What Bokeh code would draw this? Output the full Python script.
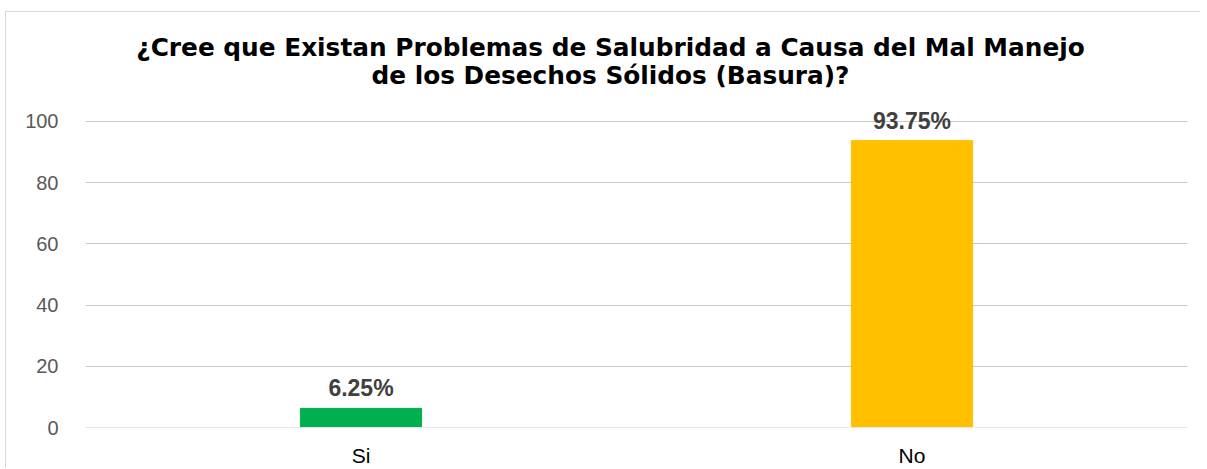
from bokeh.plotting import figure
from bokeh.models import ColumnDataSource, Label, LabelSet
from bokeh.core.properties import value
from bokeh.embed import file_html
from bokeh.resources import INLINE

categories = ["Si", "No"]
values = [6.25, 93.75]
labels = ["6.25%", "93.75%"]
colors = ["#00B050", "#FFC000"]
y_ticks = [0, 20, 40, 60, 80, 100]
title_line1 = "¿Cree que Existan Problemas de Salubridad a Causa del Mal Manejo"
title_line2 = "de los Desechos Sólidos (Basura)?"

src = ColumnDataSource(dict(cat=categories, val=values, lab=labels, col=colors))

# y range extends above 100 so that the title area lies inside the frame
p = figure(x_range=categories, y_range=(0, 135.6), width=1195, height=457,
           output_backend="svg", toolbar_location=None, title=None,
           min_border_left=79, min_border_right=14, min_border_bottom=42, min_border_top=0)
p.margin = (11, 0, 0, 5)
p.styles = {"border-left": "1px solid #d9d9d9", "border-top": "1px solid #d9d9d9"}

for txt, yy in ((title_line1, 380), (title_line2, 352)):
    p.add_layout(Label(x=525, y=yy, x_units="screen", y_units="screen", text=txt,
                       text_align="center", text_baseline="middle",
                       text_font="DejaVu Sans", text_font_size="24.8px",
                       text_font_style="bold", text_color="#000000"))

p.vbar(x="cat", top="val", width=0.22, color="col", source=src)

p.add_layout(LabelSet(x="cat", y="val", text="lab", source=src, text_align="center",
                      text_baseline="bottom", y_offset=7, text_font=value("Liberation Sans"),
                      text_font_size=value("23px"), text_font_style=value("bold"),
                      text_color=value("#404040")))

p.outline_line_color = None
p.xgrid.grid_line_color = None
p.ygrid.grid_line_color = "#c8c8c8"
p.ygrid.grid_line_width = 1
p.yaxis.ticker = y_ticks
p.yaxis.axis_line_color = None
p.yaxis.major_tick_line_color = None
p.yaxis.minor_tick_line_color = None
p.yaxis.major_label_standoff = 21
p.yaxis.major_label_text_font = "Liberation Sans"
p.yaxis.major_label_text_font_size = "20px"
p.yaxis.major_label_text_color = "#595959"
p.xaxis.axis_line_color = "#e6e6e6"
p.xaxis.major_tick_line_color = None
p.xaxis.minor_tick_line_color = None
p.xaxis.major_label_standoff = 10
p.xaxis.major_label_text_font = "Liberation Sans"
p.xaxis.major_label_text_font_size = "21px"
p.xaxis.major_label_text_color = "#000000"
p.x_range.range_padding = 0

open("out.html", "w").write(file_html(p, INLINE))
